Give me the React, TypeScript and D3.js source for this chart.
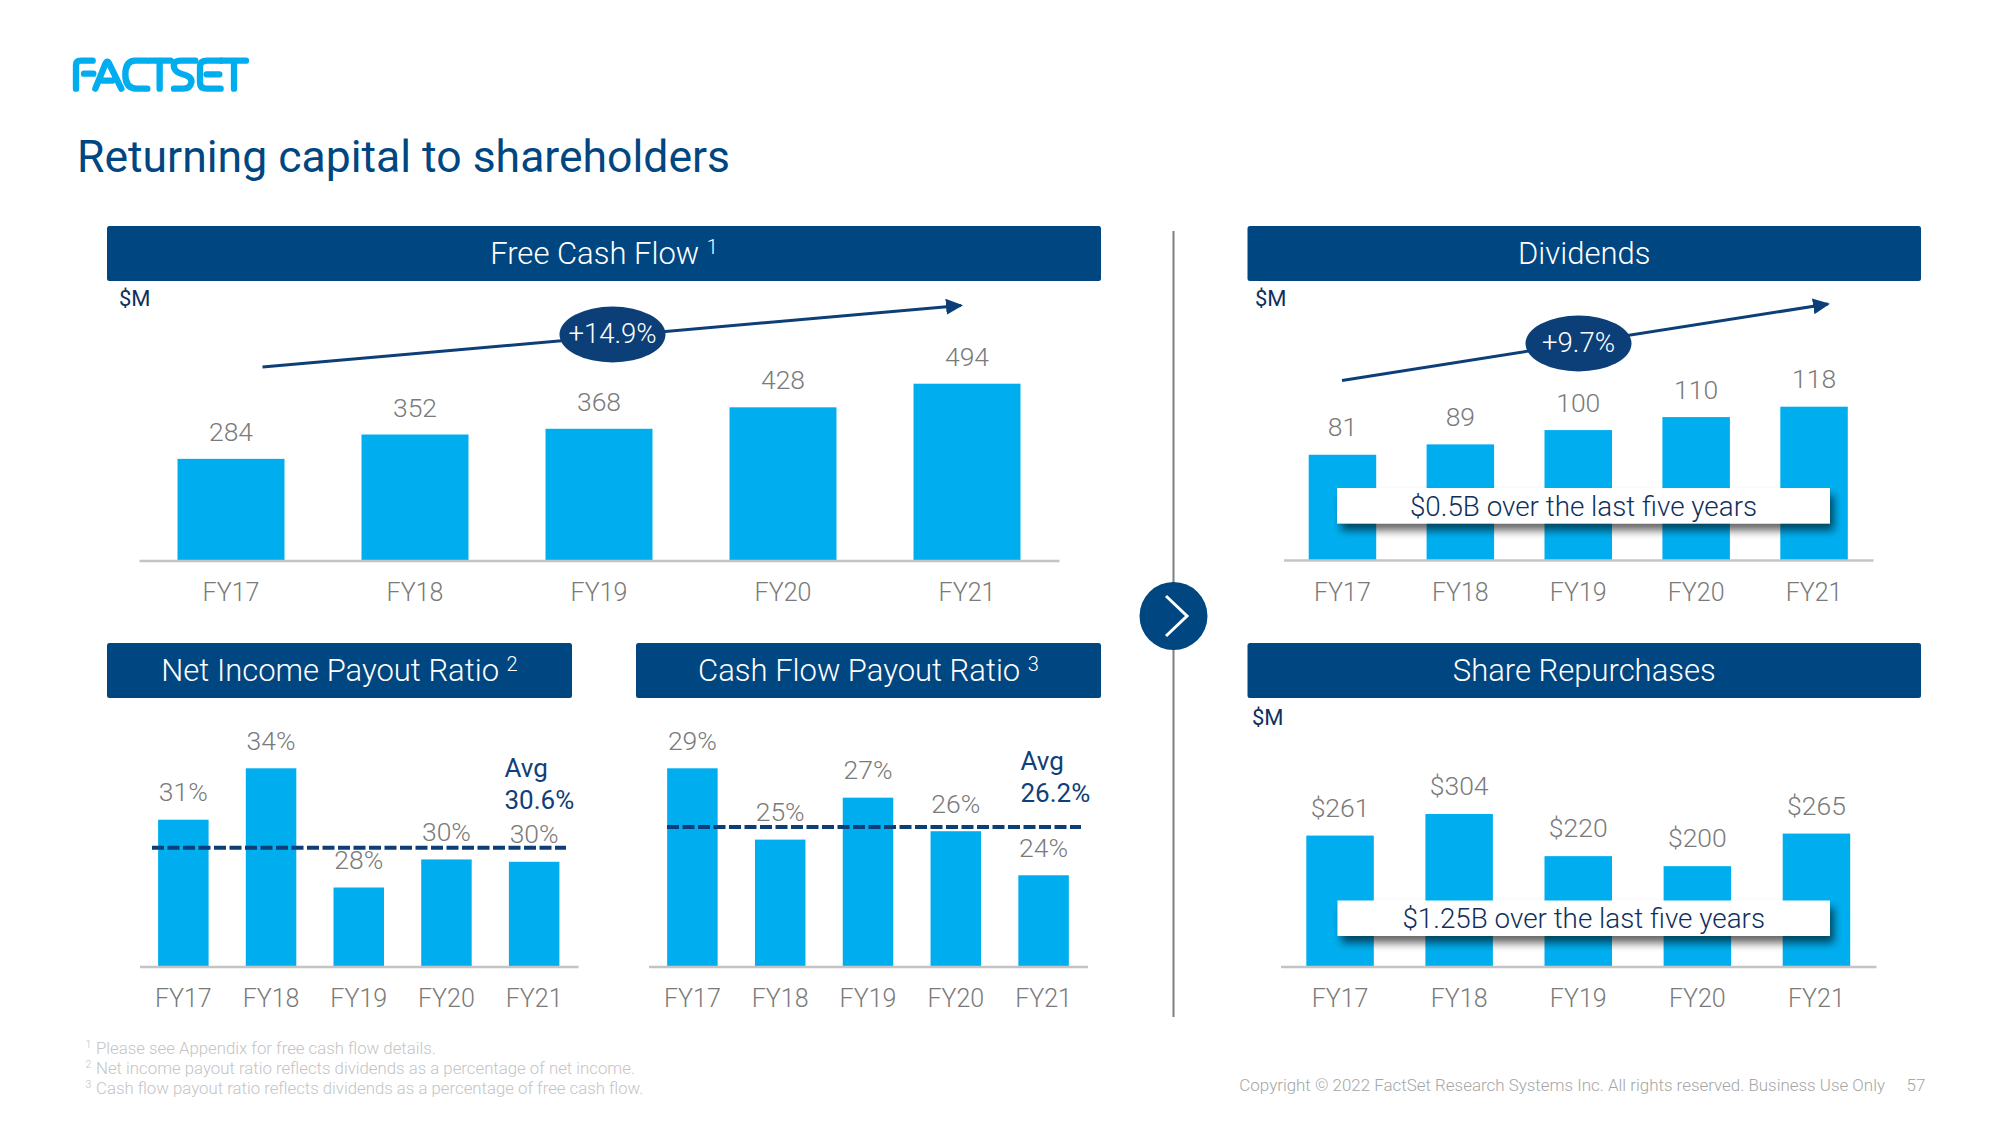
import * as d3 from 'd3';
import React, { useEffect, useRef } from 'react';

const fiscalYears = ['FY17', 'FY18', 'FY19', 'FY20', 'FY21'];

const freeCashFlow = [284, 352, 368, 428, 494];
const dividends = [81, 89, 100, 110, 118];
const repurchases = [261, 304, 220, 200, 265];

// bar heights, the printed labels are rounded separately
const netIncomePayout = [31.8, 34, 28.9, 30.1, 30];
const netIncomeLabels = ['31%', '34%', '28%', '30%', '30%'];
const netIncomeAvg = 30.6;
const cashFlowPayout = [29, 25.6, 27.6, 26, 23.9];
const cashFlowLabels = ['29%', '25%', '27%', '26%', '24%'];
const cashFlowAvg = 26.2;

const footnotes = [
  ['1', 'Please see Appendix for free cash flow details.'],
  ['2', 'Net income payout ratio reflects dividends as a percentage of net income.'],
  ['3', 'Cash flow payout ratio reflects dividends as a percentage of free cash flow.'],
];

const NAVY = '#004680';
const LINE_NAVY = '#0c3f78';
const BLUE = '#00aeef';
const GREY = '#7a7a7a';
const FONT = 'Roboto, sans-serif';

type PanelProps = {
  values: number[];
  labels: string[];
  x0: number;
  x1: number;
  barWidth: number;
  axisY: number;
  topY: number;
  yMin?: number;
  tickPad: number;
  labelGap: number;
  avg?: number;
  avgFrom?: number;
  avgTo?: number;
};

const BarPanel: React.FC<PanelProps> = ({
  values,
  labels,
  x0,
  x1,
  barWidth,
  axisY,
  topY,
  yMin = 0,
  tickPad,
  labelGap,
  avg,
  avgFrom,
  avgTo,
}) => {
  const ref = useRef<SVGGElement | null>(null);

  useEffect(() => {
    if (!ref.current) return;
    const g = d3.select(ref.current);
    g.selectAll('*').remove();

    const step = (x1 - x0) / fiscalYears.length;
    const inner = 1 - barWidth / step;
    const x = d3
      .scaleBand()
      .domain(fiscalYears)
      .range([x0, x1])
      .paddingInner(inner)
      .paddingOuter(inner / 2);
    const y = d3
      .scaleLinear()
      .domain([yMin, d3.max(values) || 0])
      .range([axisY, topY]);

    const bars = fiscalYears.map((fy, i) => ({ fy, value: values[i], label: labels[i] }));

    g.selectAll('rect')
      .data(bars)
      .enter()
      .append('rect')
      .attr('x', (d) => x(d.fy)!)
      .attr('y', (d) => y(d.value))
      .attr('width', x.bandwidth())
      .attr('height', (d) => axisY - y(d.value))
      .attr('fill', BLUE);

    const axis = g
      .append('g')
      .attr('transform', `translate(0,${axisY})`)
      .call(d3.axisBottom(x).tickSize(0).tickPadding(tickPad));
    axis.select('.domain').attr('stroke', '#c4c4c4').attr('stroke-width', 2.5);
    axis
      .selectAll('text')
      .style('font-family', FONT)
      .style('font-size', '25px')
      .style('font-weight', 300)
      .style('fill', GREY);

    g.selectAll('text.value')
      .data(bars)
      .enter()
      .append('text')
      .attr('class', 'value')
      .attr('x', (d) => x(d.fy)! + x.bandwidth() / 2)
      .attr('y', (d) => y(d.value) - labelGap)
      .attr('text-anchor', 'middle')
      .style('font-family', FONT)
      .style('font-size', '26.5px')
      .style('font-weight', 300)
      .style('fill', GREY)
      .text((d) => d.label);

    if (avg !== undefined) {
      g.append('line')
        .attr('x1', avgFrom!)
        .attr('x2', avgTo!)
        .attr('y1', y(avg))
        .attr('y2', y(avg))
        .attr('stroke', LINE_NAVY)
        .attr('stroke-width', 4)
        .attr('stroke-dasharray', '12 3.5');
    }
  }, [values, labels, x0, x1, barWidth, axisY, topY, yMin, tickPad, labelGap, avg, avgFrom, avgTo]);

  return <g ref={ref} />;
};

const Header = ({ x, y, w, title, sup }: { x: number; y: number; w: number; title: string; sup?: string }) => (
  <g>
    <rect x={x} y={y} width={w} height={55} rx={2.5} fill={NAVY} />
    <text x={x + w / 2} y={y + 37.5} textAnchor="middle" fontSize={31} fontWeight={300} fill="#fff">
      {title}
      {sup && (
        <>
          {' '}
          <tspan fontSize={20} dy={-9.5}>
            {sup}
          </tspan>
        </>
      )}
    </text>
  </g>
);

const Trend = ({ from, to, cx, cy, label }: { from: number[]; to: number[]; cx: number; cy: number; label: string }) => (
  <g>
    <line x1={from[0]} y1={from[1]} x2={to[0]} y2={to[1]} stroke={LINE_NAVY} strokeWidth={3} markerEnd="url(#arrowHead)" />
    <ellipse cx={cx} cy={cy} rx={53} ry={28} fill={LINE_NAVY} />
    <text x={cx} y={cy + 8.5} textAnchor="middle" fontSize={27.5} fontWeight={300} fill="#fff">
      {label}
    </text>
  </g>
);

const Callout = ({ x, y, w, label }: { x: number; y: number; w: number; label: string }) => (
  <g>
    <rect x={x} y={y} width={w} height={35.5} fill="#fff" filter="url(#calloutShadow)" />
    <text x={x + w / 2} y={y + 27.5} textAnchor="middle" fontSize={27.8} fontWeight={300} fill="#10305c">
      {label}
    </text>
  </g>
);

const Logo = () => (
  <g transform="translate(50,40) scale(0.3333)" fill="none" stroke={BLUE} strokeWidth={19} strokeLinecap="round" strokeLinejoin="round">
    <title>FACTSET</title>
    <path d="M128 62H92Q78 62 78 76V146M102 101H130" />
    <path d="M136 146L166 72Q172 58 178 72L214 146M160 122H186" />
    <path d="M290 62H256Q226 62 226 104Q226 146 262 146H292" />
    <path d="M298 62H362M329 62V146" />
    <path d="M436 62H392Q368 62 372 82Q376 96 396 102Q428 110 424 128Q420 146 400 146H372" />
    <path d="M514 62H472Q450 62 450 80V128Q450 146 472 146H512M470 103H508" />
    <path d="M514 62H588M552 62V146" />
  </g>
);

export default function App() {
  return (
    <svg
      width={2000}
      height={1125}
      style={{ position: 'absolute', left: 0, top: 0, background: '#fff' }}
      fontFamily={FONT}
    >
      <defs>
        <marker id="arrowHead" markerUnits="userSpaceOnUse" markerWidth={18} markerHeight={16} refX={15} refY={8} orient="auto">
          <path d="M0 0L17 8L0 16Z" fill={LINE_NAVY} />
        </marker>
        <filter id="calloutShadow" x="-5%" y="-30%" width="112%" height="190%">
          <feDropShadow dx={4} dy={7} stdDeviation={4.5} floodColor="#000" floodOpacity={0.6} />
        </filter>
      </defs>

      <Logo />
      <text x={77} y={172} fontSize={44.5} fill={NAVY}>
        Returning capital to shareholders
      </text>

      <Header x={107} y={226} w={994} title="Free Cash Flow" sup="1" />
      <Header x={1247.5} y={226} w={673.5} title="Dividends" />
      <Header x={107} y={643} w={465} title="Net Income Payout Ratio" sup="2" />
      <Header x={636} y={643} w={465} title="Cash Flow Payout Ratio" sup="3" />
      <Header x={1247.5} y={643} w={673.5} title="Share Repurchases" />

      <text x={119} y={306} fontSize={22} fill="#10305c">$M</text>
      <text x={1255} y={305.5} fontSize={22} fill="#10305c">$M</text>
      <text x={1252} y={725} fontSize={22} fill="#10305c">$M</text>

      <BarPanel
        values={freeCashFlow}
        labels={freeCashFlow.map(String)}
        x0={139}
        x1={1059}
        barWidth={107}
        axisY={560.5}
        topY={383.7}
        tickPad={23}
        labelGap={18}
      />
      <BarPanel
        values={dividends}
        labels={dividends.map(String)}
        x0={1283.5}
        x1={1873}
        barWidth={67.5}
        axisY={560}
        topY={406.7}
        tickPad={23}
        labelGap={18.5}
      />
      <BarPanel
        values={repurchases}
        labels={repurchases.map((d) => `$${d}`)}
        x0={1280.5}
        x1={1876}
        barWidth={67.5}
        axisY={966.5}
        topY={814}
        tickPad={23}
        labelGap={19}
      />
      <BarPanel
        values={netIncomePayout}
        labels={netIncomeLabels}
        x0={139.5}
        x1={578}
        barWidth={50.5}
        axisY={966.5}
        topY={768.3}
        yMin={25.52}
        tickPad={23}
        labelGap={18.5}
        avg={netIncomeAvg}
        avgFrom={152}
        avgTo={566}
      />
      <BarPanel
        values={cashFlowPayout}
        labels={cashFlowLabels}
        x0={648.5}
        x1={1087.5}
        barWidth={50.5}
        axisY={966.5}
        topY={768.3}
        yMin={19.55}
        tickPad={23}
        labelGap={18.5}
        avg={cashFlowAvg}
        avgFrom={667}
        avgTo={1081}
      />

      <Trend from={[262.5, 367]} to={[961, 305.5]} cx={612.5} cy={334.5} label="+14.9%" />
      <Trend from={[1342, 380.5]} to={[1828, 304]} cx={1578.5} cy={343.5} label="+9.7%" />

      <Callout x={1337} y={488} w={493} label="$0.5B over the last five years" />
      <Callout x={1337.5} y={900.5} w={492.5} label="$1.25B over the last five years" />

      <g fontSize={26} fill="#10407a">
        <text x={504.5} y={776.5}>Avg</text>
        <text x={504.5} y={808.5}>30.6%</text>
        <text x={1020.5} y={770}>Avg</text>
        <text x={1020.5} y={802}>26.2%</text>
      </g>

      <line x1={1173.5} x2={1173.5} y1={231} y2={1017} stroke="#7f7f7f" strokeWidth={2} />
      <circle cx={1173.5} cy={616} r={34} fill={NAVY} />
      <path d="M1166 596L1187 616L1166 636" fill="none" stroke="#fff" strokeWidth={3} />

      <g fontSize={16.8} fontWeight={300} fill="#c4c4c4">
        {footnotes.map(([mark, note], i) => (
          <g key={mark}>
            <text x={85.5} y={1048 + i * 20} fontSize={10.5}>{mark}</text>
            <text x={96} y={1054 + i * 20}>{note}</text>
          </g>
        ))}
      </g>
      <g fontSize={16.93} fontWeight={300} fill="#a6a6a6">
        <text x={1885} y={1091} textAnchor="end">
          Copyright © 2022 FactSet Research Systems Inc. All rights reserved. Business Use Only
        </text>
        <text x={1906.5} y={1091}>57</text>
      </g>
    </svg>
  );
}
